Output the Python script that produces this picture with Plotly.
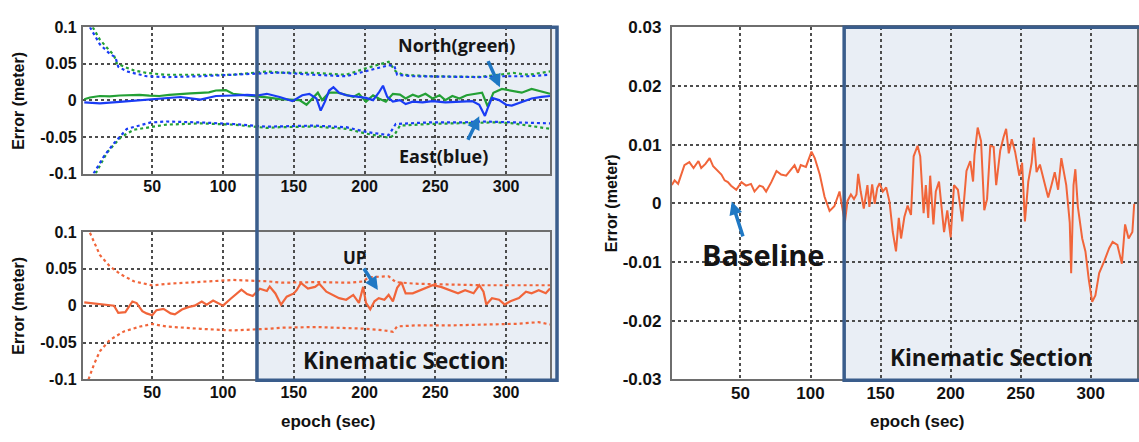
import plotly.graph_objects as go

W, H = 1139, 442

# ---------------- data ----------------
# Top-left panel: North (green) / East (blue) error and their dotted bounds
NORTH_X = [2, 6, 13, 20, 27, 34, 41, 48, 55, 62, 70, 77, 84, 90, 95, 102, 107, 112, 117, 124,
           131, 140, 154, 159, 163, 167, 170, 175, 181, 187, 192, 196, 201, 206, 210, 215, 220,
           225, 229, 234, 238, 243, 248, 253, 257, 262, 267, 272, 279, 283, 287, 291, 297, 304,
           311, 318, 325, 331]
NORTH_ERR = [0.0016, 0.004, 0.006, 0.0055, 0.0067, 0.0075, 0.0074, 0.0065, 0.006, 0.0075, 0.009,
             0.0095, 0.0104, 0.011, 0.0135, 0.014, 0.009, 0.008, 0.0067, 0.006,
             0.004, 0.0017, 0.0004, -0.006, 0.0026, 0.0105, 0.0004, 0.0105, 0.0105, 0.007, 0.0048,
             0.009, -0.0017, 0.007, 0.0026, -0.0017, 0.009,
             0.0078, 0.0026, 0.0078, 0.0048, 0.009, 0.0026, 0.007, 0.0004, 0.006, 0.0026, 0.007,
             0.009, 0.0105, -0.0083, 0.0105, 0.0157, 0.0135,
             0.0105, 0.0157, 0.012, 0.009]

EAST_X = [2, 13, 27, 41, 55, 70, 84, 95, 107, 117, 124, 131, 140, 149, 156, 161, 166, 169, 172,
          175, 178, 182, 187, 194, 201, 206, 210, 213, 216, 220, 225, 229, 234, 241, 248, 257,
          267, 276, 281, 283, 285, 287, 290, 295, 300, 304, 311, 318, 325, 331]
EAST_ERR = [-0.0027, -0.004, -0.002, 0.0003, 0.0024, 0.0046, 0.001, 0.006, 0.0067, 0.0074, 0.0067,
            0.009, 0.0046, -0.001, 0.007, 0.009, 0.0026, -0.014, -0.0017,
            0.0135, 0.018, 0.0105, 0.007, 0.0048, 0.0035, 0.0004, 0.0105, 0.02, 0.0048, -0.0017,
            0.0004, -0.005, -0.0017, -0.0026, -0.0009, -0.0026,
            -0.0017, -0.0009, -0.006, -0.0148, -0.0213, -0.0105, 0.0035, 0.0004, -0.006, -0.007,
            -0.0026, 0.0026, 0.0048, 0.006]

NORTH_UB_X = [8, 13, 18, 23, 25, 30, 37, 46, 60, 84, 107, 131, 140, 164, 187, 201, 217, 222, 227,
              246, 269, 281, 295, 305, 316, 331]
NORTH_UB = [0.1, 0.083, 0.072, 0.0614, 0.0505, 0.046, 0.041, 0.0375, 0.035, 0.035, 0.035, 0.0395,
            0.038, 0.0375, 0.035, 0.044, 0.0527, 0.0396, 0.035, 0.033, 0.033, 0.032, 0.035,
            0.0375, 0.035, 0.0396]
EAST_UB_X = [6, 13, 20, 24, 26, 32, 46, 60, 84, 107, 131, 140, 164, 187, 201, 217, 221, 223, 234,
             258, 281, 295, 316, 331]
EAST_UB = [0.1, 0.0766, 0.0636, 0.059, 0.046, 0.0396, 0.033, 0.0318, 0.033, 0.035, 0.0375, 0.038,
           0.035, 0.033, 0.04, 0.048, 0.047, 0.035, 0.033, 0.032, 0.0318, 0.033, 0.033, 0.035]
NORTH_LB_X = [10, 18, 24, 28, 37, 49, 60, 84, 107, 131, 140, 164, 187, 201, 217, 221, 225, 246,
              269, 293, 305, 331]
NORTH_LB = [-0.1, -0.0715, -0.0585, -0.05, -0.0401, -0.0367, -0.0331, -0.0314, -0.0331, -0.0376,
            -0.0366, -0.0357, -0.0388, -0.0453, -0.051, -0.0475, -0.0344, -0.0322, -0.0314,
            -0.03, -0.0314, -0.0388]
EAST_LB_X = [8.6, 16, 23, 32, 49, 60, 84, 107, 131, 140, 164, 187, 201, 217, 222, 246, 269, 283,
             305, 331]
EAST_LB = [-0.0998, -0.076, -0.0585, -0.039, -0.0301, -0.0288, -0.0301, -0.0322, -0.0359, -0.0357,
           -0.0344, -0.0366, -0.043, -0.0475, -0.0322, -0.03, -0.03, -0.0288, -0.03, -0.0314]

# Bottom-left panel: UP error and dotted bounds
UP_X = [2, 9, 13, 18, 23, 26, 31, 36, 39, 43, 46, 50, 53, 58, 63, 66, 71, 76, 80, 85, 88.5, 93,
        97, 100, 105, 110, 113, 117, 121, 126, 131, 133, 137, 141, 145, 150, 152, 155, 160, 165,
        168, 173, 177, 182, 187, 192, 196, 199, 201, 204, 207, 210, 214, 217, 220, 223, 226, 229,
        234, 239, 243, 248, 254, 260, 266, 271, 277, 281, 284, 286, 290, 295, 299, 303, 309, 314,
        318, 323, 328, 331]
UP_ERR = [0.0044, 0.0026, 0.0026, 0.0013, 0, -0.0096, -0.0087, 0.0057, 0.0035, -0.0074,
          -0.0105, -0.0131, -0.0061, -0.0044, -0.0105, -0.0118, -0.0052, -0.0017, 0, 0.0057,
          0.0013, 0.007, 0.0026, 0, 0.0087, 0.0166, 0.0218, 0.0157, 0.0131, 0.023,
          0.02, 0.026, 0.0166, 0.0013, 0.0122, 0.0166, 0.021, 0.031, 0.0233, 0.0255,
          0.0298, 0.019, 0.0146, 0.0102, 0.008, 0.0146, 0.0037, 0.0255, 0.0037, -0.005,
          0.0059, 0.0102, 0.008, 0.0146, 0.0059, 0.0242, 0.032, 0.0168, 0.0168, 0.021,
          0.0233, 0.0277, 0.0255, 0.021, 0.0168, 0.021, 0.0168, 0.0277, 0.019, 0.0015,
          0.0102, 0.008, 0.0015, 0.0059, 0.0102, 0.019, 0.0168, 0.021, 0.0168, 0.0233]
UP_UB_X = [6, 10, 13, 20, 27.5, 37, 50, 60, 84, 107, 131, 142, 166, 189, 199, 203, 217, 222, 236,
           260, 283, 307, 331]
UP_UB = [0.099, 0.082, 0.0688, 0.0536, 0.0427, 0.0331, 0.0275, 0.0296, 0.0327, 0.0349, 0.0331,
         0.0312, 0.032, 0.0312, 0.0329, 0.0386, 0.0399, 0.032, 0.0298, 0.0285, 0.0277, 0.0277,
         0.0277]
UP_LB_X = [5, 9, 13, 20, 30, 41.5, 50, 60, 84, 107, 131, 142, 166, 199, 213, 220, 223, 236, 260,
           283, 307, 323, 331]
UP_LB = [-0.1, -0.079, -0.0619, -0.0466, -0.0349, -0.0283, -0.0248, -0.0283, -0.0314, -0.0336,
         -0.0314, -0.0298, -0.029, -0.0312, -0.0333, -0.0355, -0.0281, -0.0268, -0.0268,
         -0.0255, -0.0246, -0.0224, -0.0255]

# Right panel: baseline error
BASE_X = [1, 3, 5.5, 10, 13.5, 16.5, 20, 22, 25, 28, 30.5, 34, 36.4, 38.7, 41, 43.3, 47, 50.7,
          54, 57.5, 60, 63.6, 66, 68.3, 72, 75.7, 79, 82.6, 86, 88.6, 91, 93, 96.7, 100.7, 103,
          106.6, 110, 113.6, 117, 120.7,
          124.5, 126.4, 128.8, 131, 132.8, 134, 135.8, 138, 140.6, 142, 144, 145.8, 147.6, 149.3,
          151.6, 154, 156.4, 158.7, 161, 163, 164.6, 167, 169.3, 171.7, 173.6, 176.4, 178.3,
          180.7, 182.3, 184, 185.4, 187.7, 189.4, 191.7, 195.3, 197.6, 200, 202.4, 205.2, 208.3,
          211.3, 214, 216, 217, 219.3, 221.7, 224, 226, 228.3, 230.7, 232.5, 235.4, 237.7, 239.6,
          241.5, 243.6, 246, 249, 251, 253, 255.4, 257.8, 259.4, 261.3, 263.7, 266.5, 269.6, 272,
          274.3, 276.7, 279, 282.5, 285, 286, 287.7, 289, 290.8, 293.9, 296.2, 298.6, 301, 303.3,
          306, 309.7, 313.2, 315.6, 319, 322.2, 324.5, 327, 329.7, 331]
BASE_ERR = [0.0031, 0.0039, 0.0033, 0.0065, 0.007, 0.006, 0.0072, 0.006, 0.0067, 0.0077, 0.0063,
            0.0055, 0.0049, 0.0039, 0.0036, 0.003, 0.0023, 0.0036, 0.003, 0.0033, 0.002, 0.003,
            0.0028, 0.002, 0.0036, 0.0055, 0.0049, 0.0047, 0.0057, 0.0065, 0.0052, 0.0065,
            0.0062, 0.0088, 0.0077, 0.0049, 0.0011, -0.0013, -0.0005, 0.002,
            -0.0033, 0.0004, 0.0015, 0.0007, 0.0015, 0.005, 0.002, -0.0009, 0.0031, -0.0006,
            0.0032, -0.0001, 0.0026, 0.0034, 0.002, 0.0027, 0.0002, -0.0049, -0.0082, -0.0025,
            -0.006, -0.0023, -0.0004, -0.002, 0.008, 0.0098, 0.008, -0.0017, 0.0031, -0.0025,
            0.0047, -0.0036, 0.002, 0.0037, -0.0049, -0.0012, -0.0058, 0.0031, 0.0023, -0.0031,
            0.0055, 0.0072, 0.0037, 0.0082, 0.0129, 0.0106, -0.0012, 0.0007, 0.0098, 0.0096,
            0.0031, 0.009, 0.0112, 0.0127, 0.0085, 0.0109, 0.0088, 0.0047, 0.0069, -0.0031,
            0.0037, 0.0069, 0.0112, 0.0053, 0.0066, 0.0037, 0.001, 0.0031, 0.0053, 0.0023,
            0.0077, 0.0031, -0.0033, -0.0119, 0.0031, 0.0058, -0.0006, -0.006, -0.0082, -0.013,
            -0.0168, -0.0157, -0.0119, -0.0098, -0.0076, -0.0066, -0.0071, -0.0103, -0.0036,
            -0.006, -0.0049, -0.0001]

X_TICKS = [50, 100, 150, 200, 250, 300]
Y_TICKS_LEFT = [-0.1, -0.05, 0, 0.05, 0.1]
Y_TICKTEXT_LEFT = ["-0.1", "-0.05", "0", "0.05", "0.1"]
Y_TICKS_RIGHT = [-0.03, -0.02, -0.01, 0, 0.01, 0.02, 0.03]
Y_TICKTEXT_RIGHT = ["-0.03", "-0.02", "-0.01", "0", "0.01", "0.02", "0.03"]
KINEMATIC_START = 124

for a, b in [(NORTH_X, NORTH_ERR), (EAST_X, EAST_ERR), (NORTH_UB_X, NORTH_UB), (EAST_UB_X, EAST_UB),
             (NORTH_LB_X, NORTH_LB), (EAST_LB_X, EAST_LB), (UP_X, UP_ERR), (UP_UB_X, UP_UB),
             (UP_LB_X, UP_LB), (BASE_X, BASE_ERR)]:
    assert len(a) == len(b), (len(a), len(b))

# ---------------- styling ----------------
GREEN = "#23a035"
BLUE = "#1a3cf5"
ORANGE = "#f1653a"
ARROW = "#1f78c4"
SHADE = "#e9eef5"
FRAME = "#3a5d8c"
FONT = "Liberation Sans, Arial, sans-serif"
FONT2 = "Open Sans, Noto Sans, sans-serif"

LEFT_DOM = [83 / W, 551 / W]
RIGHT_DOM = [673 / W, 1.0]
TOP_DOM = [1 - 172 / H, 1 - 19 / H]
BOT_DOM = [1 - 387 / H, 1 - 233 / H]
LEFT_RANGE = [1, 331]
RIGHT_RANGE = [1, 333]

fig = go.Figure()

def line(x, y, color, ax, dotted=False, width=2.2):
    fig.add_trace(go.Scatter(
        x=x, y=y, mode="lines", xaxis=ax[0], yaxis=ax[1], showlegend=False,
        line=dict(color=color, width=2.2 if dotted else width, dash="dot" if dotted else "solid"),
        hoverinfo="skip"))

line(NORTH_UB_X, NORTH_UB, GREEN, ("x", "y"), True)
line(NORTH_LB_X, NORTH_LB, GREEN, ("x", "y"), True)
line(EAST_UB_X, EAST_UB, BLUE, ("x", "y"), True)
line(EAST_LB_X, EAST_LB, BLUE, ("x", "y"), True)
line(NORTH_X, NORTH_ERR, GREEN, ("x", "y"))
line(EAST_X, EAST_ERR, BLUE, ("x", "y"))

line(UP_UB_X, UP_UB, ORANGE, ("x2", "y2"), True)
line(UP_LB_X, UP_LB, ORANGE, ("x2", "y2"), True)
line(UP_X, UP_ERR, ORANGE, ("x2", "y2"))

line(BASE_X, BASE_ERR, ORANGE, ("x3", "y3"), width=2)

tickfont = dict(family=FONT, size=16, color="#111", weight="bold")
tickfont_r = dict(family=FONT, size=17, color="#111", weight="bold")
common = dict(showline=True, linecolor="#6e6e6e", linewidth=2, mirror=True,
              showgrid=True, gridcolor="#4d4d4d", gridwidth=1.6, griddash="dot",
              zeroline=False)
xcommon = dict(ticks="", ticklabelstandoff=-3, tickvals=X_TICKS, **common)

fig.update_layout(
    width=W, height=H, margin=dict(l=0, r=0, t=0, b=0),
    paper_bgcolor="white", plot_bgcolor="rgba(0,0,0,0)",
    xaxis=dict(domain=LEFT_DOM, range=LEFT_RANGE, anchor="y", tickfont=tickfont, **xcommon),
    yaxis=dict(domain=TOP_DOM, range=[-0.1, 0.1], anchor="x", tickvals=Y_TICKS_LEFT,
               ticktext=Y_TICKTEXT_LEFT, ticks="outside", ticklen=1,
               tickcolor="rgba(0,0,0,0)", tickfont=tickfont, **common),
    xaxis2=dict(domain=LEFT_DOM, range=LEFT_RANGE, anchor="y2", tickfont=tickfont, **xcommon),
    yaxis2=dict(domain=BOT_DOM, range=[-0.1, 0.1], anchor="x2", tickvals=Y_TICKS_LEFT,
                ticktext=Y_TICKTEXT_LEFT, ticks="outside", ticklen=1,
                tickcolor="rgba(0,0,0,0)", tickfont=tickfont, **common),
    xaxis3=dict(domain=RIGHT_DOM, range=RIGHT_RANGE, anchor="y3", tickfont=tickfont_r, **xcommon),
    yaxis3=dict(domain=[BOT_DOM[0], TOP_DOM[1]], range=[-0.03, 0.03], anchor="x3",
                tickvals=Y_TICKS_RIGHT, ticktext=Y_TICKTEXT_RIGHT, ticks="outside", ticklen=5,
                tickcolor="rgba(0,0,0,0)", tickfont=tickfont_r, **common),
)

def to_paper(xv, dom, rng):
    return dom[0] + (xv - rng[0]) / (rng[1] - rng[0]) * (dom[1] - dom[0])

# Kinematic section boxes (paper coordinates derived from the axes)
kin_left_x0 = to_paper(KINEMATIC_START, LEFT_DOM, LEFT_RANGE)
kin_right_x0 = to_paper(KINEMATIC_START, RIGHT_DOM, RIGHT_RANGE)
box_y0, box_y1 = 1 - 388 / H, 1 - 19 / H
for x0, x1 in [(kin_left_x0, 558 / W), (kin_right_x0, 1.01)]:
    fig.add_shape(type="rect", xref="paper", yref="paper", x0=x0, x1=x1, y0=box_y0, y1=box_y1,
                  fillcolor=SHADE, line=dict(width=0), layer="below")
    fig.add_shape(type="rect", xref="paper", yref="paper", x0=x0, x1=x1, y0=box_y0, y1=box_y1,
                  fillcolor="rgba(0,0,0,0)", line=dict(color=FRAME, width=3.5), layer="above")

# Axis titles
def ptxt(text, x, y, size, angle=0, family=FONT, weight="bold", color="#111"):
    fig.add_annotation(text=text, xref="paper", yref="paper", x=x / W, y=1 - y / H,
                       showarrow=False, textangle=angle, xanchor="center", yanchor="middle",
                       font=dict(family=family, size=size, color=color, weight=weight))

ptxt("Error (meter)", 19, 96, 16, -90)
ptxt("Error (meter)", 19, 310, 16, -90)
ptxt("Error (meter)", 612, 203, 16, -90)
ptxt("epoch (sec)", 329, 431, 17)
ptxt("epoch (sec)", 919, 431, 17)

# Labels in data coordinates
def dtxt(text, x, y, ax, size, weight="bold"):
    fig.add_annotation(text=text, xref=ax[0], yref=ax[1], x=x, y=y, showarrow=False,
                       xanchor="center", yanchor="middle",
                       font=dict(family=FONT2, size=size, color="#151515", weight=weight))

dtxt("North(green)", 265, 0.076, ("x", "y"), 18)
dtxt("East(blue)", 256, -0.0754, ("x", "y"), 18)
dtxt("UP", 193, 0.066, ("x2", "y2"), 17)
dtxt("Kinematic Section", 228, -0.074, ("x2", "y2"), 22.5)
dtxt("Kinematic Section", 229, -0.0263, ("x3", "y3"), 22.5)
dtxt("Baseline", 66.4, -0.0088, ("x3", "y3"), 29)

def arrow(hx, hy, tx, ty, ax):
    fig.add_annotation(x=hx, y=hy, ax=tx, ay=ty, xref=ax[0], yref=ax[1], axref=ax[0], ayref=ax[1],
                       text="", showarrow=True, arrowhead=2, arrowsize=0.75, arrowwidth=3.5,
                       arrowcolor=ARROW)

arrow(295.6, 0.0178, 286.8, 0.0557, ("x", "y"))
arrow(281, -0.0218, 272.5, -0.0558, ("x", "y"))
arrow(209.4, 0.0212, 198.8, 0.0525, ("x2", "y2"))
arrow(43.8, 0.0003, 52.1, -0.0059, ("x3", "y3"))

fig.write_html("out.html")
